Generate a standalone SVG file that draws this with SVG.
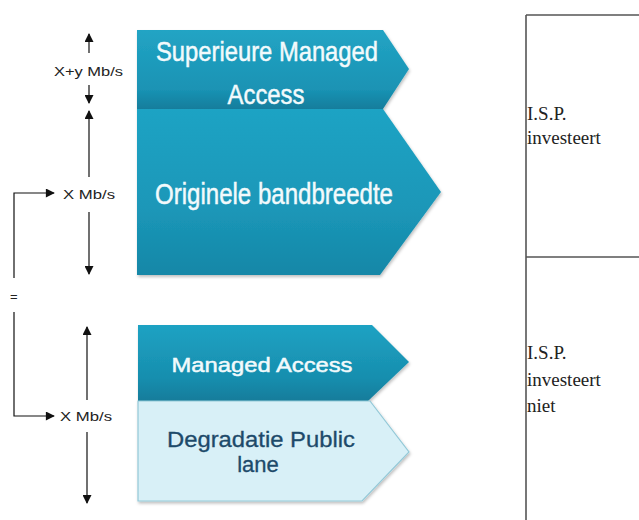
<svg xmlns="http://www.w3.org/2000/svg" width="639" height="520" viewBox="0 0 639 520">
<defs>
<style>
.lbl{font-family:"Liberation Sans",Arial,sans-serif;font-size:13px;fill:#222}
.wt{font-family:"Liberation Sans",Arial,sans-serif;fill:#f2fafc;text-anchor:middle;stroke:#f2fafc;stroke-width:0.5}
.dt{font-family:"Liberation Sans",Arial,sans-serif;fill:#1d4a6a;text-anchor:middle;stroke:#1d4a6a;stroke-width:0.3}
.tt{font-family:"Liberation Serif","Times New Roman",serif;font-size:19px;fill:#222}
.ln{stroke:#111;stroke-width:1.2;fill:none}
.tb{stroke:#555;stroke-width:1.6;fill:none}
</style>
<marker id="ah" viewBox="0 0 10 10" refX="9" refY="5" markerWidth="10" markerHeight="9" markerUnits="userSpaceOnUse" orient="auto">
<path d="M0,0 L10,5 L0,10 z" fill="#111"/>
</marker>
<linearGradient id="g1" x1="0" y1="0" x2="0" y2="1">
<stop offset="0" stop-color="#22a4c4"/>
<stop offset="0.75" stop-color="#1a93b4"/>
<stop offset="1" stop-color="#137d9c"/>
</linearGradient>
<linearGradient id="g2" x1="0" y1="0" x2="0" y2="1">
<stop offset="0" stop-color="#1fa3c4"/>
<stop offset="0.6" stop-color="#1b97b8"/>
<stop offset="1" stop-color="#1587a7"/>
</linearGradient>
<linearGradient id="g3" x1="0" y1="0" x2="0" y2="1">
<stop offset="0" stop-color="#1ea2c3"/>
<stop offset="0.7" stop-color="#178eae"/>
<stop offset="1" stop-color="#137c9b"/>
</linearGradient>
<filter id="sh" x="-5%" y="-5%" width="115%" height="120%">
<feDropShadow dx="1" dy="2" stdDeviation="1.5" flood-color="#000" flood-opacity="0.25"/>
</filter>
</defs>
<rect width="639" height="520" fill="#fff"/>

<g id="node-superieure">
<path d="M137,30 L383,30 L409,69 L383,109 L137,109 Z" fill="url(#g1)" filter="url(#sh)"/>
<text class="wt" x="267" y="61" font-size="28" textLength="222" lengthAdjust="spacingAndGlyphs">Superieure Managed</text>
<text class="wt" x="266" y="104" font-size="28" textLength="77" lengthAdjust="spacingAndGlyphs">Access</text>
</g>

<g id="node-originele">
<path d="M137,109 L383,109 L441,192 L380,275 L137,275 Z" fill="url(#g2)" filter="url(#sh)"/>
<text class="wt" x="274" y="204" font-size="30" textLength="238" lengthAdjust="spacingAndGlyphs">Originele bandbreedte</text>
</g>

<g id="node-managed">
<path d="M138,325 L372,325 L409,362 L368,401 L138,401 Z" fill="url(#g3)" filter="url(#sh)"/>
<text class="wt" x="262" y="372" font-size="21" textLength="181" lengthAdjust="spacingAndGlyphs">Managed Access</text>
</g>

<g id="node-degradatie">
<path d="M138,401 L370,401 L409,452 L362,501 L138,501 Z" fill="#d8f0f7" stroke="#93c9d8" stroke-width="1.2" filter="url(#sh)"/>
<text class="dt" x="261" y="447" font-size="22" textLength="188" lengthAdjust="spacingAndGlyphs">Degradatie Public</text>
<text class="dt" x="258" y="472" font-size="22">lane</text>
</g>

<g id="labels">
<text class="lbl" x="54" y="76" textLength="69" lengthAdjust="spacingAndGlyphs">X+y Mb/s</text>
<text class="lbl" x="63" y="199" textLength="52" lengthAdjust="spacingAndGlyphs">X Mb/s</text>
<text class="lbl" x="60" y="421" textLength="52" lengthAdjust="spacingAndGlyphs">X Mb/s</text>
<text class="lbl" x="10" y="301">=</text>
</g>

<g id="connectors">
<line class="ln" x1="89" y1="53" x2="89" y2="34" marker-end="url(#ah)"/>
<line class="ln" x1="89" y1="85" x2="89" y2="103" marker-end="url(#ah)"/>
<line class="ln" x1="89" y1="177" x2="89" y2="111" marker-end="url(#ah)"/>
<line class="ln" x1="89" y1="212" x2="89" y2="274" marker-end="url(#ah)"/>
<line class="ln" x1="87" y1="400" x2="87" y2="327" marker-end="url(#ah)"/>
<line class="ln" x1="87" y1="432" x2="87" y2="503" marker-end="url(#ah)"/>
<polyline class="ln" points="14,278 14,193 54,193" marker-end="url(#ah)"/>
<polyline class="ln" points="14,312 14,416 54,416" marker-end="url(#ah)"/>
</g>

<g id="table">
<line class="tb" x1="526" y1="15" x2="639" y2="15"/>
<line class="tb" x1="526" y1="15" x2="526" y2="520"/>
<line class="tb" x1="526" y1="257" x2="639" y2="257"/>
<text class="tt" x="527" y="120">I.S.P.</text>
<text class="tt" x="527" y="144">investeert</text>
<text class="tt" x="527" y="359">I.S.P.</text>
<text class="tt" x="527" y="386">investeert</text>
<text class="tt" x="527" y="412">niet</text>
</g>
</svg>
